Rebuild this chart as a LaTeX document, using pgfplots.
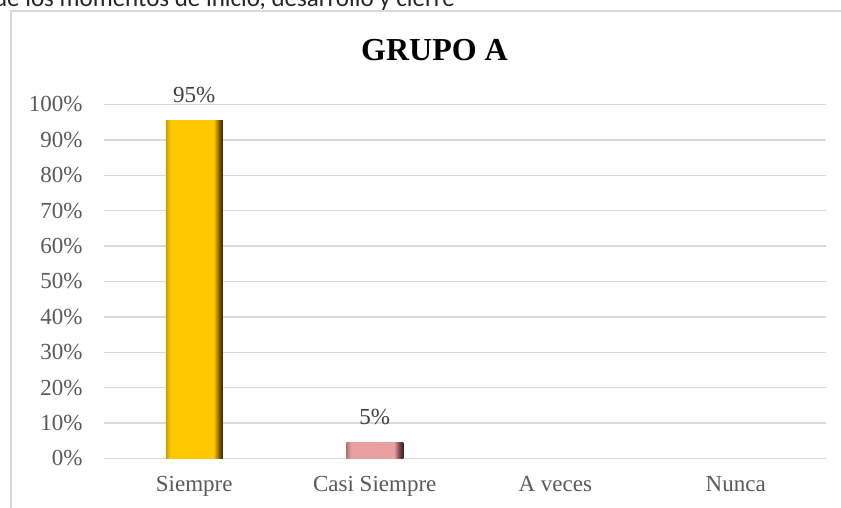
\documentclass[border=0pt]{standalone}
\usepackage{fontspec}
\setmainfont{Liberation Serif}
\newfontfamily\calibri{Carlito}
\usepackage{pgfplots}
\pgfplotsset{compat=1.18}

\definecolor{gridgray}{HTML}{D9D9D9}
\definecolor{ticktext}{HTML}{595959}
\definecolor{lbltext}{HTML}{404040}
\definecolor{goldmain}{RGB}{255,200,0}
\definecolor{goldleft}{RGB}{205,155,0}
\definecolor{golddk}{RGB}{150,110,0}
\definecolor{goldblk}{RGB}{50,35,0}
\definecolor{pinkmain}{RGB}{232,160,160}
\definecolor{pinkleft}{RGB}{175,115,115}
\definecolor{pinkdk}{RGB}{130,80,80}
\definecolor{pinkblk}{RGB}{60,30,30}

% horizontal bevel: the middle 50bp (25..75) is stretched over the bar
\pgfdeclarehorizontalshading{goldbar}{100bp}{color(0bp)=(goldleft); color(25bp)=(goldleft);
  color(29bp)=(goldmain); color(67bp)=(goldmain); color(71bp)=(golddk);
  color(75bp)=(goldblk); color(100bp)=(goldblk)}
\pgfdeclarehorizontalshading{pinkbar}{100bp}{color(0bp)=(pinkleft); color(25bp)=(pinkleft);
  color(29bp)=(pinkmain); color(67bp)=(pinkmain); color(71bp)=(pinkdk);
  color(75bp)=(pinkblk); color(100bp)=(pinkblk)}

\begin{document}
\begin{tikzpicture}
\path[use as bounding box, clip] (0pt,0pt) rectangle (841pt,508pt);

% cut-off line of text above the chart
\node[font=\calibri\fontsize{25}{30}\selectfont, anchor=base east, inner sep=0pt, text=black!85]
  at (455pt,501pt) {Se observa el desempe\~no en cada uno de los momentos de inicio, desarrollo y cierre};

% chart frame (right and bottom edges lie outside the picture)
\draw[gridgray, line width=1.3pt] (11pt,-20pt) -- (11pt,497pt) -- (880pt,497pt);

\node[font=\bfseries\fontsize{32}{38}\selectfont, anchor=base, inner sep=0pt]
  at (434.5pt,447pt) {GRUPO A};

\begin{axis}[
    at={(104pt,49.5pt)}, anchor=south west,
    scale only axis, width=722pt, height=354pt,
    xmin=-0.5, xmax=3.5, ymin=0, ymax=100,
    xtick={0,1,2,3},
    xticklabels={Siempre, Casi Siempre, A veces, Nunca},
    ytick={0,10,20,30,40,50,60,70,80,90,100},
    yticklabels={0\%,10\%,20\%,30\%,40\%,50\%,60\%,70\%,80\%,90\%,100\%},
    ymajorgrids,
    grid style={gridgray, line width=1.3pt},
    axis line style={draw=none},
    major tick length=0pt,
    tick label style={text=ticktext, font=\fontsize{23}{27}\selectfont},
    xticklabel style={yshift=-14pt},
    yticklabel style={xshift=-18pt},
    /pgf/number format/assume math mode=true,
    nodes near coords={\pgfmathprintnumber[fixed,precision=0]{\pgfplotspointmeta}\%},
    nodes near coords style={text=lbltext, font=\fontsize{23}{27}\selectfont, yshift=14pt},
    clip=false,
]
% 21 of 22 and 1 of 22
\addplot[ybar, bar width=57pt, draw=none, shading=goldbar] coordinates {(0,95.45)};
\addplot[ybar, bar width=57pt, draw=none, shading=pinkbar] coordinates {(1,4.55)};
\end{axis}
\end{tikzpicture}
\end{document}
